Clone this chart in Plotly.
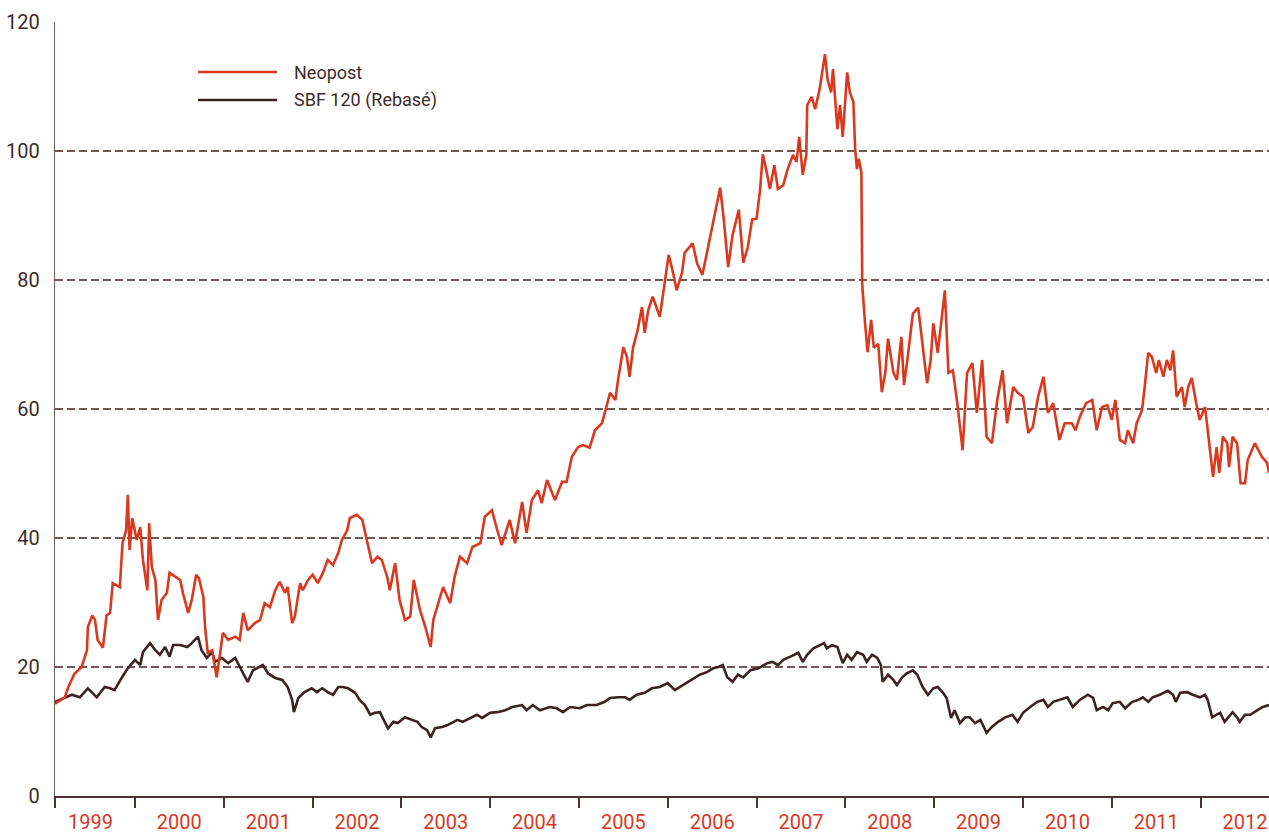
import plotly.graph_objects as go

# ---- Data (time in decimal years, values in EUR / rebased index) ----
neopost_t = [
    1999.10, 1999.21, 1999.25, 1999.32, 1999.40, 1999.46, 1999.47, 1999.52, 1999.55, 1999.58,
    1999.64, 1999.68, 1999.72, 1999.75, 1999.83, 1999.86, 1999.90, 1999.92, 1999.94, 1999.97,
    2000.02, 2000.06, 2000.09, 2000.14, 2000.16, 2000.19, 2000.23, 2000.26, 2000.30, 2000.36,
    2000.39, 2000.45, 2000.51, 2000.54, 2000.60, 2000.64, 2000.69, 2000.72, 2000.77, 2000.79,
    2000.82, 2000.87, 2000.92, 2000.96, 2000.99, 2001.05, 2001.13, 2001.18, 2001.22, 2001.27,
    2001.35, 2001.41, 2001.46, 2001.52, 2001.58, 2001.63, 2001.69, 2001.72, 2001.77, 2001.80,
    2001.86, 2001.89, 2001.95, 2002.00, 2002.06, 2002.12, 2002.17, 2002.23, 2002.29, 2002.33,
    2002.39, 2002.42, 2002.50, 2002.56, 2002.61, 2002.67, 2002.73, 2002.78, 2002.84, 2002.87,
    2002.93, 2002.98, 2003.04, 2003.10, 2003.14, 2003.21, 2003.27, 2003.33, 2003.36, 2003.40,
    2003.47, 2003.55, 2003.60, 2003.66, 2003.74, 2003.80, 2003.89, 2003.94, 2004.02, 2004.08,
    2004.13, 2004.22, 2004.28, 2004.36, 2004.41, 2004.47, 2004.54, 2004.58, 2004.64, 2004.73,
    2004.81, 2004.86, 2004.92, 2004.99, 2005.05, 2005.12, 2005.18, 2005.26, 2005.32, 2005.35,
    2005.41, 2005.44, 2005.50, 2005.54, 2005.57, 2005.61, 2005.66, 2005.71, 2005.74, 2005.78,
    2005.83, 2005.91, 2005.97, 2006.01, 2006.06, 2006.10, 2006.16, 2006.19, 2006.28, 2006.33,
    2006.39, 2006.44, 2006.50, 2006.54, 2006.59, 2006.63, 2006.68, 2006.73, 2006.80, 2006.85,
    2006.90, 2006.95, 2007.00, 2007.04, 2007.07, 2007.12, 2007.15, 2007.20, 2007.24, 2007.30,
    2007.35, 2007.41, 2007.45, 2007.48, 2007.52, 2007.56, 2007.57, 2007.62, 2007.66, 2007.71,
    2007.77, 2007.80, 2007.84, 2007.86, 2007.91, 2007.94, 2007.97, 2008.02, 2008.05, 2008.09,
    2008.11, 2008.13, 2008.15, 2008.18, 2008.19, 2008.22, 2008.25, 2008.29, 2008.32, 2008.37,
    2008.41, 2008.45, 2008.48, 2008.54, 2008.58, 2008.63, 2008.66, 2008.70, 2008.76, 2008.82,
    2008.86, 2008.92, 2008.96, 2008.99, 2009.04, 2009.09, 2009.12, 2009.16, 2009.21, 2009.26,
    2009.32, 2009.37, 2009.43, 2009.48, 2009.54, 2009.59, 2009.65, 2009.71, 2009.77, 2009.82,
    2009.89, 2009.94, 2010.00, 2010.06, 2010.11, 2010.17, 2010.23, 2010.28, 2010.34, 2010.41,
    2010.47, 2010.55, 2010.59, 2010.64, 2010.71, 2010.78, 2010.83, 2010.89, 2010.95, 2011.00,
    2011.04, 2011.09, 2011.15, 2011.18, 2011.24, 2011.28, 2011.34, 2011.37, 2011.41, 2011.45,
    2011.50, 2011.53, 2011.58, 2011.62, 2011.66, 2011.69, 2011.71, 2011.73, 2011.79, 2011.82,
    2011.86, 2011.90, 2011.95, 2011.99, 2012.05, 2012.08, 2012.14, 2012.18, 2012.21, 2012.25,
    2012.30, 2012.32, 2012.36, 2012.41, 2012.45, 2012.50, 2012.53, 2012.61, 2012.65, 2012.69,
    2012.75, 2012.77,
]
neopost_v = [
    14.3, 15.3, 16.9, 19.0, 20.0, 22.6, 26.2, 28.0, 27.3, 24.2,
    23.0, 28.0, 28.4, 33.0, 32.4, 39.2, 41.2, 46.7, 38.1, 43.1,
    39.7, 41.7, 36.6, 31.9, 42.3, 35.5, 33.5, 27.3, 30.4, 31.5,
    34.6, 34.0, 33.5, 31.5, 28.4, 30.4, 34.3, 33.8, 30.9, 26.2,
    22.2, 22.6, 18.4, 22.2, 25.3, 24.2, 24.7, 24.2, 28.4, 25.7,
    26.8, 27.3, 29.9, 29.3, 31.9, 33.2, 31.5, 32.4, 26.8, 27.8,
    33.0, 31.9, 33.5, 34.3, 33.0, 34.7, 36.6, 35.8, 37.7, 39.7,
    41.2, 43.1, 43.6, 42.8, 39.7, 36.1, 37.1, 36.6, 34.0, 31.9,
    36.1, 30.4, 27.3, 27.8, 33.5, 28.8, 26.2, 23.1, 27.3, 29.3,
    32.4, 29.9, 34.0, 37.1, 36.1, 38.6, 39.2, 43.3, 44.3, 41.2,
    38.9, 42.8, 39.2, 45.6, 40.8, 45.9, 47.4, 45.4, 49.0, 45.9,
    48.7, 48.7, 52.6, 54.1, 54.4, 54.0, 56.7, 57.8, 60.9, 62.5,
    61.4, 64.5, 69.6, 68.1, 65.0, 69.6, 72.2, 75.8, 71.8, 75.3,
    77.4, 74.3, 80.0, 83.9, 81.1, 78.4, 81.1, 84.2, 85.7, 82.6,
    80.8, 84.2, 88.2, 91.3, 94.3, 89.5, 82.0, 87.0, 90.9, 82.7,
    85.0, 89.4, 89.5, 94.1, 99.5, 96.3, 94.1, 97.8, 94.1, 94.7,
    97.2, 99.4, 98.3, 102.2, 96.3, 99.4, 107.1, 108.4, 106.5, 109.6,
    115.0, 111.0, 109.1, 112.7, 103.4, 107.1, 102.2, 112.2, 109.1, 107.6,
    100.3, 97.2, 98.8, 96.7, 79.2, 73.5, 68.8, 73.8, 69.5, 70.1,
    62.6, 65.7, 70.9, 65.7, 64.5, 71.2, 63.7, 67.8, 74.8, 75.7,
    71.2, 64.0, 67.6, 73.3, 68.7, 75.3, 78.4, 65.6, 66.0, 60.9,
    53.6, 65.6, 67.1, 59.4, 67.6, 55.7, 54.7, 61.4, 66.0, 57.8,
    63.4, 62.5, 61.9, 56.3, 57.2, 61.9, 65.0, 59.4, 60.9, 55.2,
    57.8, 57.8, 56.7, 58.8, 60.9, 61.4, 56.7, 60.3, 60.6, 58.3,
    61.4, 55.2, 54.7, 56.7, 54.7, 57.8, 59.8, 63.4, 68.7, 68.1,
    65.6, 67.6, 65.0, 67.6, 66.0, 69.1, 65.0, 61.9, 63.4, 60.3,
    63.4, 64.8, 60.9, 58.3, 60.3, 56.7, 49.5, 54.1, 50.1, 55.7,
    54.7, 51.0, 55.7, 54.7, 48.5, 48.5, 52.1, 54.7, 53.6, 52.6,
    51.6, 50.1,
]

sbf_t = [
    1999.10, 1999.21, 1999.29, 1999.38, 1999.47, 1999.57, 1999.66, 1999.72, 1999.77, 1999.85,
    1999.92, 2000.00, 2000.06, 2000.09, 2000.17, 2000.23, 2000.28, 2000.34, 2000.39, 2000.43,
    2000.51, 2000.59, 2000.64, 2000.71, 2000.75, 2000.81, 2000.87, 2000.90, 2000.98, 2001.05,
    2001.13, 2001.20, 2001.27, 2001.33, 2001.44, 2001.50, 2001.58, 2001.66, 2001.72, 2001.77,
    2001.79, 2001.84, 2001.91, 2001.99, 2002.05, 2002.11, 2002.17, 2002.23, 2002.29, 2002.34,
    2002.40, 2002.48, 2002.53, 2002.59, 2002.65, 2002.70, 2002.76, 2002.79, 2002.85, 2002.91,
    2002.96, 2003.04, 2003.12, 2003.18, 2003.23, 2003.29, 2003.33, 2003.38, 2003.46, 2003.52,
    2003.59, 2003.63, 2003.69, 2003.77, 2003.85, 2003.91, 2004.00, 2004.08, 2004.17, 2004.25,
    2004.36, 2004.41, 2004.48, 2004.56, 2004.67, 2004.75, 2004.82, 2004.90, 2005.01, 2005.09,
    2005.20, 2005.29, 2005.35, 2005.44, 2005.52, 2005.57, 2005.65, 2005.74, 2005.82, 2005.91,
    2006.00, 2006.08, 2006.17, 2006.27, 2006.36, 2006.44, 2006.51, 2006.57, 2006.62, 2006.67,
    2006.73, 2006.79, 2006.85, 2006.93, 2007.02, 2007.12, 2007.18, 2007.24, 2007.30, 2007.38,
    2007.47, 2007.52, 2007.57, 2007.64, 2007.71, 2007.76, 2007.79, 2007.85, 2007.91, 2007.94,
    2007.97, 2008.02, 2008.07, 2008.13, 2008.20, 2008.24, 2008.30, 2008.36, 2008.40, 2008.42,
    2008.48, 2008.54, 2008.58, 2008.64, 2008.69, 2008.76, 2008.81, 2008.87, 2008.93, 2008.99,
    2009.04, 2009.10, 2009.14, 2009.19, 2009.23, 2009.29, 2009.35, 2009.40, 2009.46, 2009.52,
    2009.56, 2009.59, 2009.65, 2009.72, 2009.80, 2009.88, 2009.94, 2010.00, 2010.08, 2010.16,
    2010.23, 2010.28, 2010.34, 2010.42, 2010.50, 2010.56, 2010.64, 2010.73, 2010.79, 2010.83,
    2010.90, 2010.96, 2011.01, 2011.09, 2011.15, 2011.23, 2011.30, 2011.35, 2011.41, 2011.46,
    2011.54, 2011.63, 2011.69, 2011.72, 2011.77, 2011.85, 2011.91, 2011.99, 2012.05, 2012.08,
    2012.13, 2012.18, 2012.22, 2012.27, 2012.31, 2012.36, 2012.41, 2012.44, 2012.50, 2012.56,
    2012.64, 2012.70, 2012.77,
]
sbf_v = [
    14.6, 15.2, 15.7, 15.3, 16.7, 15.3, 16.9, 16.7, 16.4, 18.3,
    19.8, 21.1, 20.3, 22.3, 23.7, 22.6, 21.9, 23.1, 21.6, 23.4,
    23.4, 23.1, 23.7, 24.7, 22.6, 21.4, 22.3, 20.8, 21.4, 20.6,
    21.4, 19.5, 17.7, 19.5, 20.3, 19.0, 18.3, 18.0, 16.9, 14.9,
    13.0, 15.2, 16.1, 16.7, 16.1, 16.7, 16.1, 15.7, 16.9, 16.9,
    16.7, 16.0, 14.9, 14.1, 12.6, 12.9, 13.0, 12.1, 10.5, 11.5,
    11.3, 12.2, 11.8, 11.5, 10.7, 10.2, 9.1, 10.5, 10.7, 11.0,
    11.5, 11.8, 11.5, 12.1, 12.6, 12.1, 12.9, 13.0, 13.3, 13.8,
    14.1, 13.3, 14.1, 13.3, 13.8, 13.6, 13.0, 13.8, 13.6, 14.1,
    14.1, 14.6, 15.2, 15.3, 15.3, 14.9, 15.7, 16.0, 16.7, 16.9,
    17.5, 16.4, 17.2, 18.0, 18.8, 19.2, 19.8, 20.0, 20.3, 18.4,
    17.7, 18.8, 18.4, 19.5, 19.8, 20.6, 20.8, 20.3, 21.1, 21.6,
    22.2, 20.8, 21.9, 22.9, 23.4, 23.7, 22.9, 23.4, 23.1, 21.9,
    20.6, 21.9, 21.1, 22.3, 21.9, 20.8, 21.9, 21.4, 20.3, 17.7,
    18.8, 18.0, 17.2, 18.4, 19.0, 19.5, 18.8, 16.9, 15.7, 16.7,
    16.9, 16.0, 15.2, 12.1, 13.3, 11.3, 12.2, 12.2, 11.3, 11.8,
    10.7, 9.8, 10.7, 11.5, 12.2, 12.6, 11.5, 12.9, 13.8, 14.6,
    14.9, 13.8, 14.6, 14.9, 15.3, 13.8, 14.9, 15.7, 15.2, 13.3,
    13.8, 13.3, 14.4, 14.6, 13.6, 14.6, 14.9, 15.3, 14.6, 15.3,
    15.7, 16.3, 15.7, 14.6, 16.0, 16.1, 15.7, 15.3, 15.7, 14.9,
    12.2, 12.6, 12.9, 11.5, 12.2, 13.0, 12.2, 11.5, 12.6, 12.6,
    13.3, 13.8, 14.1,
]

series_names = ["Neopost", "SBF 120 (Rebasé)"]
years = list(range(1999, 2013))
year_labels = [str(y) for y in years]
y_ticks = [0, 20, 40, 60, 80, 100, 120]

RED = "#d8391f"
DARK = "#3a2322"
GRID = "#6e5957"
AXIS_B = "#4a3533"
AXIS_L = "#6b5a58"
TEXT = "#3c2c2a"
FONT = "Roboto"

fig = go.Figure()
fig.add_trace(go.Scatter(x=sbf_t, y=sbf_v, mode="lines", name=series_names[1],
                         line=dict(color=DARK, width=2.6), showlegend=False))
fig.add_trace(go.Scatter(x=neopost_t, y=neopost_v, mode="lines", name=series_names[0],
                         line=dict(color=RED, width=2.6), showlegend=False))

x_start = neopost_t[0]
x_end = neopost_t[-1]

fig.update_layout(
    width=1269, height=836,
    margin=dict(l=55, r=0, t=22, b=40),
    paper_bgcolor="white", plot_bgcolor="white",
    font=dict(family=FONT, color=TEXT),
    xaxis=dict(
        range=[x_start, x_end],
        automargin=False,
        tickmode="array",
        tickvals=[y + 0.5 for y in years],
        ticktext=year_labels,
        ticks="",
        ticklabelstandoff=7,
        tickfont=dict(family=FONT, size=20, color=RED),
        showline=True, linecolor=AXIS_B, linewidth=2,
        showgrid=False, zeroline=False,
        minor=dict(tickmode="array", tickvals=[x_start] + years[1:],
                   ticks="outside", ticklen=10, tickwidth=2, tickcolor=AXIS_B,
                   showgrid=False),
    ),
    yaxis=dict(
        range=[0, 120],
        automargin=False,
        tickmode="array", tickvals=y_ticks,
        ticks="",
        ticklabelstandoff=10,
        tickfont=dict(family=FONT, size=20, color=TEXT),
        showline=True, linecolor=AXIS_L, linewidth=1.3,
        showgrid=True, gridcolor=GRID, gridwidth=1.5, griddash="8px,4px",
        zeroline=False,
    ),
)

# Manual legend (long line samples as in the original)
legend_items = [(series_names[0], RED, 0.9354), (series_names[1], DARK, 0.8992)]
for name, color, yp in legend_items:
    fig.add_shape(type="line", xref="paper", yref="paper",
                  x0=0.1178, x1=0.1829, y0=yp, y1=yp,
                  line=dict(color=color, width=2.6))
    fig.add_annotation(xref="paper", yref="paper", x=0.1952, y=yp,
                       text=name, showarrow=False, xanchor="left", yanchor="middle",
                       font=dict(family=FONT, size=18, color=TEXT))

fig.write_html("out.html",
               config={"displayModeBar": False},
               post_script="document.body.style.margin='0px';document.body.style.overflow='hidden';")
